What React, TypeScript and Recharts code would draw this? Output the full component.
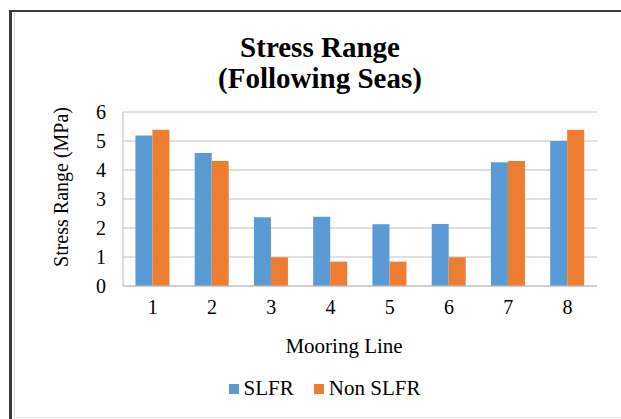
import React from 'react';
import { BarChart, Bar, XAxis, YAxis, CartesianGrid, Legend } from 'recharts';

// Stress range per mooring line, following seas
const mooringLines = ['1', '2', '3', '4', '5', '6', '7', '8'];
const slfr = [5.19, 4.59, 2.37, 2.39, 2.13, 2.14, 4.27, 5.0];
const nonSlfr = [5.39, 4.31, 0.99, 0.84, 0.84, 0.99, 4.31, 5.39];
const yTicks = [0, 1, 2, 3, 4, 5, 6];
const seriesOrder = ['SLFR', 'Non SLFR'];

const data = mooringLines.map((line, i) => ({
  line,
  slfr: slfr[i],
  nonSlfr: nonSlfr[i],
}));

const FONT = '"Liberation Serif", "Times New Roman", serif';

const YLabel = () => (
  <text
    x={61}
    y={187}
    transform="rotate(-90, 61, 187)"
    textAnchor="middle"
    dominantBaseline="central"
    style={{ fontFamily: FONT }}
    fontSize={20}
    fill="#000"
  >
    Stress Range (MPa)
  </text>
);

const XLabel = () => (
  <text x={344} y={353} textAnchor="middle" style={{ fontFamily: FONT }} fontSize={21} fill="#000">
    Mooring Line
  </text>
);

const XTick = ({ x, y, payload }: any) => (
  <text x={x} y={y} dy={15} textAnchor="middle" style={{ fontFamily: FONT }} fontSize={20} fill="#000">
    {payload.value}
  </text>
);

const YTick = ({ x, y, payload }: any) => (
  <text x={x} y={y} dy={7} textAnchor="end" style={{ fontFamily: FONT }} fontSize={20} fill="#000">
    {payload.value}
  </text>
);

const LegendContent = ({ payload }: any) => {
  const items = [...(payload || [])].sort(
    (a: any, b: any) => seriesOrder.indexOf(a.value) - seriesOrder.indexOf(b.value)
  );
  return (
    <div style={{ display: 'flex', justifyContent: 'center', fontFamily: FONT, fontSize: 21, color: '#000' }}>
      {items.map((item: any) => (
        <div key={item.value} style={{ display: 'flex', alignItems: 'center', margin: '0 10px' }}>
          <span style={{ display: 'inline-block', width: 10, height: 10, background: item.color, marginRight: 5 }} />
          <span>{item.value}</span>
        </div>
      ))}
    </div>
  );
};

export default function App() {
  return (
    <div
      style={{
        position: 'absolute',
        left: 0,
        top: 0,
        width: 621,
        height: 419,
        background: '#fff',
        overflow: 'hidden',
        fontFamily: FONT,
      }}
    >
      {/* frame */}
      <div style={{ position: 'absolute', left: 9, top: 10, width: 3, height: 409, background: '#3a3a3a' }} />
      <div style={{ position: 'absolute', left: 9, top: 10, width: 612, height: 2, background: '#3a3a3a' }} />
      <div style={{ position: 'absolute', left: 14, top: 12, width: 1, height: 407, background: '#d9d9d9' }} />
      <div style={{ position: 'absolute', left: 14, top: 417, width: 607, height: 1, background: '#e6e6e6' }} />

      <div
        style={{
          position: 'absolute',
          left: 0,
          top: 32,
          width: 640,
          textAlign: 'center',
          fontWeight: 'bold',
          fontSize: 29,
          lineHeight: '31px',
          color: '#000',
        }}
      >
        Stress Range
        <br />
        (Following Seas)
      </div>

      <div style={{ position: 'absolute', left: 0, top: 0 }}>
        <BarChart
          width={621}
          height={419}
          data={data}
          margin={{ top: 112, right: 24, bottom: 63, left: 0 }}
          barCategoryGap="21%"
          barGap={0}
        >
          <CartesianGrid vertical={false} stroke="#bfbfbf" />
          <XAxis
            dataKey="line"
            height={70}
            tickLine={false}
            tickSize={0}
            tickMargin={13}
            axisLine={{ stroke: '#bfbfbf' }}
            tick={<XTick />}
            label={<XLabel />}
          />
          <YAxis
            width={123}
            domain={[0, 6]}
            ticks={yTicks}
            interval={0}
            tickLine={false}
            tickSize={0}
            tickMargin={17}
            axisLine={{ stroke: '#bfbfbf' }}
            tick={<YTick />}
            label={<YLabel />}
          />
          <Legend
            verticalAlign="middle"
            align="center"
            content={<LegendContent />}
            wrapperStyle={{ top: 376, left: 14, width: 621 }}
          />
          <Bar dataKey="slfr" name="SLFR" fill="#5b9bd5" isAnimationActive={false} />
          <Bar dataKey="nonSlfr" name="Non SLFR" fill="#ed7d31" isAnimationActive={false} />
        </BarChart>
      </div>
    </div>
  );
}
